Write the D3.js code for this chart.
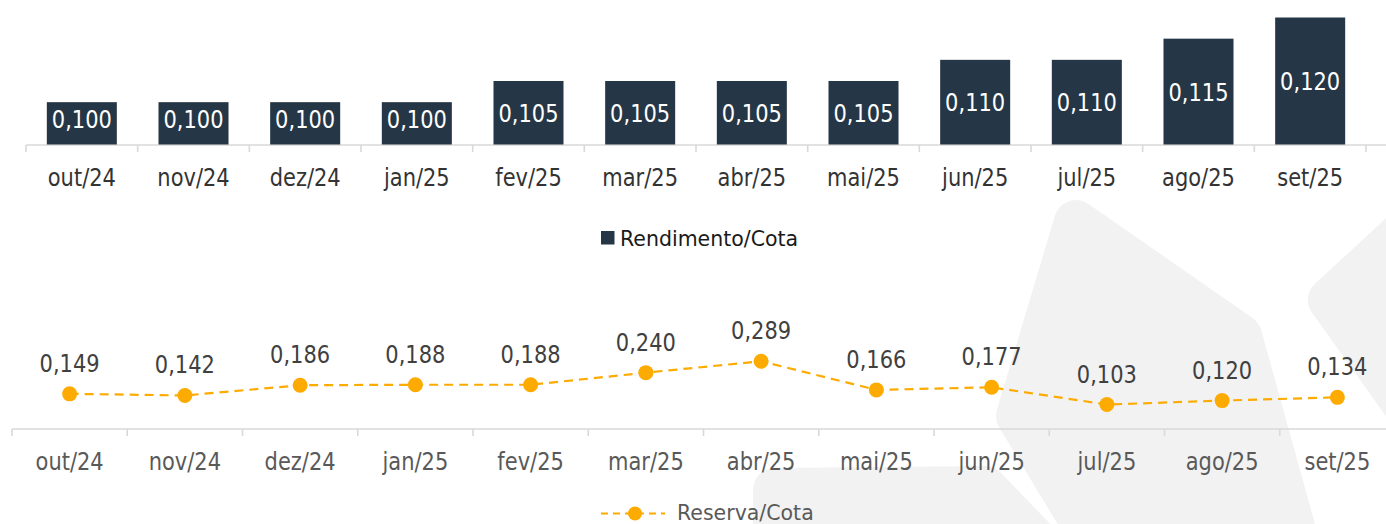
<!DOCTYPE html>
<html>
<head>
<meta charset="utf-8">
<script src="https://cdn.jsdelivr.net/npm/d3@7"></script>
<style>
  body { margin: 0; background: #fff; }
  text { font-family: "DejaVu Sans", Verdana, sans-serif; }
</style>
</head>
<body>
<div id="chart-area"></div>
<script>
// Rendimento e Reserva por cota
var months = ["out/24", "nov/24", "dez/24", "jan/25", "fev/25", "mar/25",
              "abr/25", "mai/25", "jun/25", "jul/25", "ago/25", "set/25"];
var rendimento = [0.100, 0.100, 0.100, 0.100, 0.105, 0.105, 0.105, 0.105, 0.110, 0.110, 0.115, 0.120];
var reserva = [0.149, 0.142, 0.186, 0.188, 0.188, 0.240, 0.289, 0.166, 0.177, 0.103, 0.120, 0.134];
var barDomain = [0.09, 0.12];
var lineDomain = [0, 0.3];

var width = 1386, height = 524;
var barColor = "#253746", lineColor = "#FDAB00", axisColor = "#d9d9d9";
var squeeze = 0.84;

var fmt = function(v) { return d3.format(".3f")(v).replace(".", ","); };

var svg = d3.select("#chart-area").append("svg")
    .attr("width", width)
    .attr("height", height);

// marca d'agua no fundo
var bg = svg.append("g")
    .attr("fill", "#f2f2f2")
    .attr("stroke", "#f2f2f2")
    .attr("stroke-width", 44)
    .attr("stroke-linejoin", "round");
[
    [[1076, 222], [1018, 416], [1096, 545], [1298, 545], [1240, 336]],
    [[1410, 226], [1330, 300], [1410, 412]],
    [[775, 490], [985, 488], [1040, 545], [775, 545]]
].forEach(function(p) {
    bg.append("path").attr("d", d3.line()(p) + "Z");
});

// texto estreito (fonte condensada)
function label(parent, x, y, txt, size, color) {
    parent.append("g")
        .attr("transform", "translate(" + x + "," + y + ") scale(" + squeeze + ",1)")
      .append("text")
        .attr("text-anchor", "middle")
        .attr("font-size", size + "px")
        .style("fill", color)
        .text(txt);
}

function categoryAxis(g, x, y0, labelY, color) {
    var r = x.range();
    g.append("line")
        .attr("x1", r[0]).attr("x2", Math.max(r[1], width))
        .attr("y1", y0).attr("y2", y0)
        .attr("stroke", axisColor).attr("stroke-width", 1.6);
    d3.range(months.length + 1).forEach(function(i) {
        var tx = r[0] + i * x.step();
        g.append("line")
            .attr("x1", tx).attr("x2", tx)
            .attr("y1", y0).attr("y2", y0 + 7)
            .attr("stroke", axisColor).attr("stroke-width", 1.6);
    });
    months.forEach(function(m) {
        label(g, x(m) + x.bandwidth() / 2, labelY, m, 25, color);
    });
}

// ---- Rendimento/Cota (barras)
var pad = 0.373;
var xBar = d3.scaleBand().domain(months).range([26, 1366])
    .paddingInner(pad).paddingOuter(pad / 2);
var yBar = d3.scaleLinear().domain(barDomain).range([144.5, 17.5]);

var gBar = svg.append("g");
categoryAxis(gBar, xBar, 145, 186, "#333333");

gBar.selectAll("rect.bar")
    .data(rendimento)
    .enter().append("rect")
    .attr("class", "bar")
    .attr("x", function(d, i) { return xBar(months[i]); })
    .attr("width", xBar.bandwidth())
    .attr("y", function(d) { return yBar(d); })
    .attr("height", function(d) { return yBar(barDomain[0]) - yBar(d); })
    .attr("fill", barColor);

rendimento.forEach(function(d, i) {
    var cy = (yBar(d) + yBar(barDomain[0])) / 2;
    label(gBar, xBar(months[i]) + xBar.bandwidth() / 2, Math.min(cy + 9, 128), fmt(d), 25, "#ffffff");
});

// legenda 1
gBar.append("rect")
    .attr("x", 601).attr("y", 231)
    .attr("width", 13.5).attr("height", 13.5)
    .attr("fill", barColor);
gBar.append("text")
    .attr("x", 620).attr("y", 246)
    .attr("font-size", "20.5px")
    .style("fill", "#1a1a1a")
    .text("Rendimento/Cota");

// ---- Reserva/Cota (linha)
var xLine = d3.scaleBand().domain(months).range([12, 1395]);
var yLine = d3.scaleLinear().domain(lineDomain).range([428.5, 358.7]);

var gLine = svg.append("g");
categoryAxis(gLine, xLine, 429, 470, "#595959");

var cx = function(i) { return xLine(months[i]) + xLine.bandwidth() / 2; };

gLine.append("path")
    .datum(reserva)
    .attr("fill", "none")
    .attr("stroke", lineColor)
    .attr("stroke-width", 2.2)
    .attr("stroke-dasharray", "9,6")
    .attr("d", d3.line()
        .x(function(d, i) { return cx(i); })
        .y(function(d) { return yLine(d); }));

gLine.selectAll("circle.pt")
    .data(reserva)
    .enter().append("circle")
    .attr("class", "pt")
    .attr("cx", function(d, i) { return cx(i); })
    .attr("cy", function(d) { return yLine(d); })
    .attr("r", 7.5)
    .attr("fill", lineColor);

reserva.forEach(function(d, i) {
    label(gLine, cx(i), yLine(d) - 22, fmt(d), 25, "#404040");
});

// legenda 2
gLine.append("line")
    .attr("x1", 601).attr("x2", 665)
    .attr("y1", 513.5).attr("y2", 513.5)
    .attr("stroke", lineColor).attr("stroke-width", 2.2)
    .attr("stroke-dasharray", "7,5");
gLine.append("circle")
    .attr("cx", 635).attr("cy", 513.5).attr("r", 7)
    .attr("fill", lineColor);
gLine.append("text")
    .attr("x", 677).attr("y", 519.5)
    .attr("font-size", "20.5px")
    .style("fill", "#595959")
    .text("Reserva/Cota");
</script>
</body>
</html>
